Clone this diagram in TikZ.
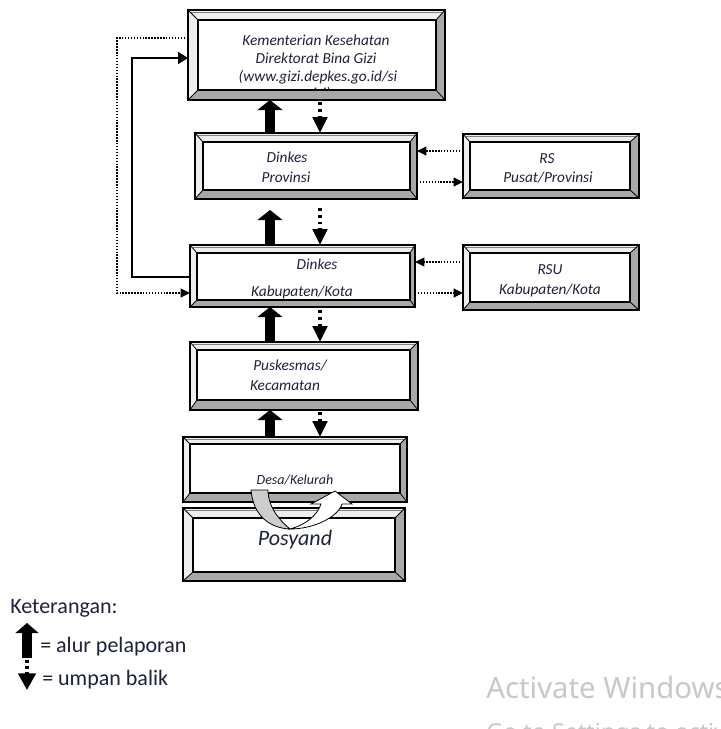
\documentclass[tikz,border=0pt]{standalone}
\usepackage{fontspec}
\setmainfont{Carlito}
\newfontfamily\wmfont{Noto Sans}
\usetikzlibrary{arrows.meta,fit,calc}
\definecolor{txt}{RGB}{30,34,58}
\definecolor{bevdark}{RGB}{168,168,168}
\definecolor{bevlight}{RGB}{238,238,238}
\definecolor{wm}{RGB}{200,200,200}
\definecolor{curvgray}{RGB}{205,205,205}

% name, x1, y1, x2, y2, left, top, right, bottom bevel widths (px)
\newcommand\bevelbox[9]{%
  \node[fit={(#2,#3) (#4,#5)}, inner sep=0pt, outer sep=0pt] (#1) {};
  \coordinate (#1-i1) at ([shift={(#6,#7)}]#1.north west);
  \coordinate (#1-i2) at ([shift={(-#8,#7)}]#1.north east);
  \coordinate (#1-i3) at ([shift={(-#8,-#9)}]#1.south east);
  \coordinate (#1-i4) at ([shift={(#6,-#9)}]#1.south west);
  \fill[bevlight] (#1.north west) -- (#1.north east) -- (#1-i2) -- (#1-i1) -- (#1-i4) -- (#1.south west) -- cycle;
  \fill[bevdark] (#1.north east) -- (#1.south east) -- (#1.south west) -- (#1-i4) -- (#1-i3) -- (#1-i2) -- cycle;
  \fill[white] (#1-i1) rectangle (#1-i3);
  \draw[gray, line width=0.5pt] ([shift={(2.5,2.5)}]#1.north west) -- ([shift={(-2.5,2.5)}]#1.north east);
  \draw[bevline] (#1.north west) rectangle (#1.south east);
  \draw[bevline] (#1-i1) rectangle (#1-i3);
  \draw[bevthin] (#1.north west) -- (#1-i1) (#1.north east) -- (#1-i2)
                 (#1.south east) -- (#1-i3) (#1.south west) -- (#1-i4);
}

\tikzset{
  bevline/.style={draw=black, line width=1.1pt},
  bevthin/.style={draw=black, line width=0.6pt},
  boxtxt/.style={anchor=base, text=txt, inner sep=0pt, font=\itshape\fontsize{11.5}{13}\selectfont},
  legtxt/.style={anchor=base west, text=txt, inner sep=0pt, font=\fontsize{16.5}{18}\selectfont},
  thickup/.style={line width=7.5pt, -{Triangle[width=18.5pt,length=7.5pt]}},
  dotdown/.style={line width=2.6pt, dash pattern=on 2.2pt off 3pt, -{Triangle[width=11pt,length=12pt]}},
  sidedot/.style={line width=1.5pt, dash pattern=on 1.1pt off 1.1pt, -{Triangle[width=6.5pt,length=7pt]}},
  sidesolid/.style={line width=1.6pt, -{Triangle[width=9pt,length=7.5pt]}},
}

\begin{document}
\begin{tikzpicture}[x=0.75pt, y=-0.75pt]
\clip (0,0) rectangle (721,729);
\useasboundingbox (0,0) rectangle (721,729);
\fill[white] (0,0) rectangle (721,729);

% boxes
\bevelbox{kem}{188}{10}{445}{100}{10}{10}{9}{10}
\bevelbox{prov}{195}{133}{417}{199}{8}{9}{7}{9}
\bevelbox{rs}{463}{134}{639}{198}{7}{8}{9}{8}
\bevelbox{kab}{190}{245}{415}{307}{7}{8}{5}{7}
\bevelbox{rsu}{463}{245}{639}{310}{7}{8}{9}{8}
\bevelbox{pusk}{190}{342}{418}{410}{7}{8}{8}{10}
\bevelbox{desa}{183}{437}{407}{502}{7}{7}{7}{9}
\bevelbox{posy}{183}{508}{405}{581}{10}{10}{10}{9}

% texts
\node[boxtxt] (tk1) at (316,45) {Kementerian Kesehatan};
\node[boxtxt] (tk2) at (316,63) {Direktorat Bina Gizi};
\node[boxtxt] (tk3) at (318,81) {(www.gizi.depkes.go.id/si};
\begin{scope}
  \clip (kem-i1) rectangle (kem-i3);
  \node[boxtxt] (tk4) at (318,98) {gizi)};
\end{scope}
\node[boxtxt] (tp1) at (287,162) {Dinkes};
\node[boxtxt] (tp2) at (286,182) {Provinsi};
\node[boxtxt] (tr1) at (547,163) {RS};
\node[boxtxt] (tr2) at (548,182) {Pusat/Provinsi};
\node[boxtxt] (tb1) at (317,269) {Dinkes};
\node[boxtxt] (tb2) at (302,296) {Kabupaten/Kota};
\node[boxtxt] (tu1) at (550,274) {RSU};
\node[boxtxt] (tu2) at (550,294) {Kabupaten/Kota};
\node[boxtxt] (tq1) at (290,370) {Puskesmas/};
\node[boxtxt] (tq2) at (285,390) {Kecamatan};
\node[boxtxt, font=\itshape\fontsize{10.5}{12}\selectfont] (td) at (295,484.5) {Desa/Kelurah};
\node[boxtxt, font=\itshape\fontsize{16.5}{18}\selectfont] (ty) at (295,545) {Posyand};

% vertical arrows
\coordinate (ux) at (270,0);
\coordinate (dx) at (320,0);
\draw[thickup] (ux |- prov.north) -- (ux |- kem.south);
\draw[thickup, shorten >=8.25pt] (ux |- kab.north) -- (ux |- prov.south);
\draw[thickup] (ux |- pusk.north) -- (ux |- kab.south);
\draw[thickup] (ux |- desa.north) -- (ux |- pusk.south);

\draw[dotdown, shorten <=1.5pt] (dx |- kem.south) -- (dx |- prov.north);
\draw[dotdown, shorten <=6.5pt] (dx |- prov.south) -- (dx |- kab.north);
\draw[dotdown, shorten <=2pt] (dx |- kab.south) -- (dx |- pusk.north);
\draw[dotdown, shorten <=1.5pt] (dx |- pusk.south) -- (dx |- desa.north);

% side connectors to RS / RSU
\coordinate (ya) at (0,151);
\coordinate (yb) at (0,182);
\coordinate (yc) at (0,262);
\coordinate (yd) at (0,293);
\draw[sidedot] (rs.west |- ya) -- (prov.east |- ya);
\draw[sidedot] (prov.east |- yb) -- (rs.west |- yb);
\draw[sidedot] (rsu.west |- yc) -- (kab.east |- yc);
\draw[sidedot] (kab.east |- yd) -- (rsu.west |- yd);

% left loop connectors
\coordinate (lx1) at (132,0);
\coordinate (lx2) at (117,0);
\coordinate (ly1) at (0,277);
\coordinate (ly2) at (0,58);
\coordinate (ly3) at (0,38);
\coordinate (ly4) at (0,293);
\draw[sidesolid] (kab.west |- ly1) -- (lx1 |- ly1) -- (lx1 |- ly2) -- (kem.west |- ly2);
\draw[sidedot] (kem.west |- ly3) -- (lx2 |- ly3) -- (lx2 |- ly4) -- (kab.west |- ly4);

% curved arrows between Desa and Posyandu
\draw[line width=0.6pt, fill=curvgray]
  (251,490) .. controls (253,514) and (268,528) .. (290,529)
  .. controls (280,521) and (268,507) .. (268,490) -- cycle;
\draw[line width=0.6pt, fill=white]
  (290,529) .. controls (314,529) and (338,517) .. (342,504)
  -- (352,504) -- (335,491) -- (311,504) -- (321,504)
  .. controls (317,516) and (305,525) .. (290,529) -- cycle;

% legend
\node[legtxt] (leg0) at (10,613) {Keterangan:};
\coordinate (la1) at (27,658);
\coordinate (la2) at (27,623);
\draw[line width=7.8pt, -{Triangle[width=17pt,length=7.5pt]}] (la1) -- (la2);
\coordinate (lb1) at (27,660);
\coordinate (lb2) at (27,690);
\draw[line width=2.6pt, dash pattern=on 2.2pt off 2.2pt, -{Triangle[width=13pt,length=12.5pt]}] (lb1) -- (lb2);
\node[legtxt] (leg1) at (40,652) {= alur pelaporan};
\node[legtxt] (leg2) at (42,685) {= umpan balik};

% watermark (cut off at the picture's edge, as in the reference)
\node[anchor=base west, inner sep=0pt, text=wm, font=\wmfont\fontsize{22}{24}\selectfont] (wm1) at (486,698) {Activate Windows};
\node[anchor=base west, inner sep=0pt, text=wm, font=\wmfont\fontsize{17.5}{20}\selectfont] (wm2) at (486,740) {Go to Settings to activate Windows.};
\end{tikzpicture}
\end{document}
